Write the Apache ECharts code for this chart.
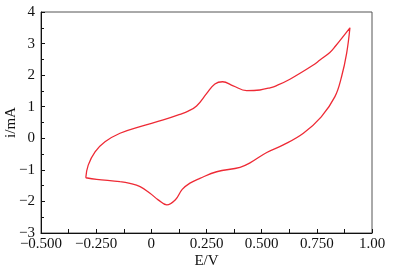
<!DOCTYPE html>
<html>
<head>
<meta charset="utf-8">
<script src="https://cdn.jsdelivr.net/npm/echarts@6/dist/echarts.min.js"></script>
<style>
  html, body { margin: 0; padding: 0; background: #fff; }
  #chart { width: 400px; height: 274px; }
</style>
</head>
<body>
<div id="chart"></div>
<script>
  // potential E/V (forward scan, then reverse scan)
  var potential = [
    -0.297, -0.286, -0.255, -0.210, -0.142, -0.051, 0.054, 0.130, 0.167, 0.205,
    0.251, 0.288, 0.323, 0.371, 0.432, 0.492, 0.538, 0.568, 0.628, 0.734,
    0.764, 0.809, 0.832, 0.900,
    0.885, 0.862, 0.832, 0.770, 0.689, 0.598, 0.523, 0.447, 0.402, 0.296,
    0.220, 0.175, 0.140, 0.110, 0.070, 0.031, -0.006, -0.051, -0.097, -0.142,
    -0.248, -0.297
  ]
  // current i/mA
  var current = [
    -1.25, -0.85, -0.43, -0.11, 0.16, 0.37, 0.58, 0.76, 0.86, 1.02,
    1.42, 1.72, 1.79, 1.66, 1.51, 1.53, 1.60, 1.67, 1.87, 2.32,
    2.48, 2.72, 2.90, 3.50,
    2.69, 1.95, 1.32, 0.68, 0.16, -0.21, -0.45, -0.78, -0.92, -1.06,
    -1.27, -1.42, -1.62, -1.94, -2.11, -1.95, -1.74, -1.53, -1.43, -1.375,
    -1.30, -1.25
  ]
  var xTicks = [-0.5, 1.0, 0.25]   // min, max, interval
  var yTicks = [-3, 4, 1]

  var chart = echarts.init(document.getElementById('chart'))
  var font = 'Liberation Serif, Times New Roman, serif'

  function xLabel(v) {
    var s
    if (Math.abs(v) < 1e-9) s = '0'
    else if (Math.abs(v - 1) < 1e-9) s = '1.00'
    else s = v.toFixed(3)
    return s.replace('-', '\u2212')
  }

  chart.setOption({
    animation: false,
    grid: {
      left: 41,
      right: 28,
      top: 12,
      bottom: 41,
      outerBoundsMode: 'none',
      show: true,
      borderColor: '#555',
      borderWidth: 1
    },
    xAxis: {
      type: 'value',
      min: xTicks[0],
      max: xTicks[1],
      interval: xTicks[2],
      name: 'E/V',
      nameLocation: 'middle',
      nameGap: 21,
      nameMoveOverlap: false,
      nameTextStyle: {color: '#111', fontFamily: font, fontSize: 15},
      axisLine: {show: true, onZero: false, lineStyle: {color: '#111', width: 1}},
      axisTick: {show: true, inside: true, length: 4, lineStyle: {color: '#111'}},
      minorTick: {show: true, splitNumber: 2, length: 4, lineStyle: {color: '#111'}},
      splitLine: {show: false},
      axisLabel: {
        color: '#111',
        fontFamily: font,
        fontSize: 15,
        margin: 4,
        formatter: xLabel
      }
    },
    yAxis: {
      type: 'value',
      min: yTicks[0],
      max: yTicks[1],
      interval: yTicks[2],
      name: 'i/mA',
      nameLocation: 'middle',
      nameGap: 22,
      nameMoveOverlap: false,
      nameTextStyle: {color: '#111', fontFamily: font, fontSize: 15},
      axisLine: {show: true, onZero: false, lineStyle: {color: '#111', width: 1}},
      axisTick: {show: true, inside: true, length: 4, lineStyle: {color: '#111'}},
      minorTick: {show: true, splitNumber: 2, length: 3, lineStyle: {color: '#111'}},
      splitLine: {show: false},
      axisLabel: {
        color: '#111',
        fontFamily: font,
        fontSize: 15,
        margin: 6,
        formatter: function (v) {
          return String(v).replace('-', '\u2212')
        }
      }
    },
    series: [{
      type: 'line',
      symbol: 'none',
      smooth: 0.4,
      data: potential.map(function (e, i) {
        return [e, current[i]]
      }),
      lineStyle: {color: '#ee2a35', width: 1.3}
    }]
  })
</script>
</body>
</html>
